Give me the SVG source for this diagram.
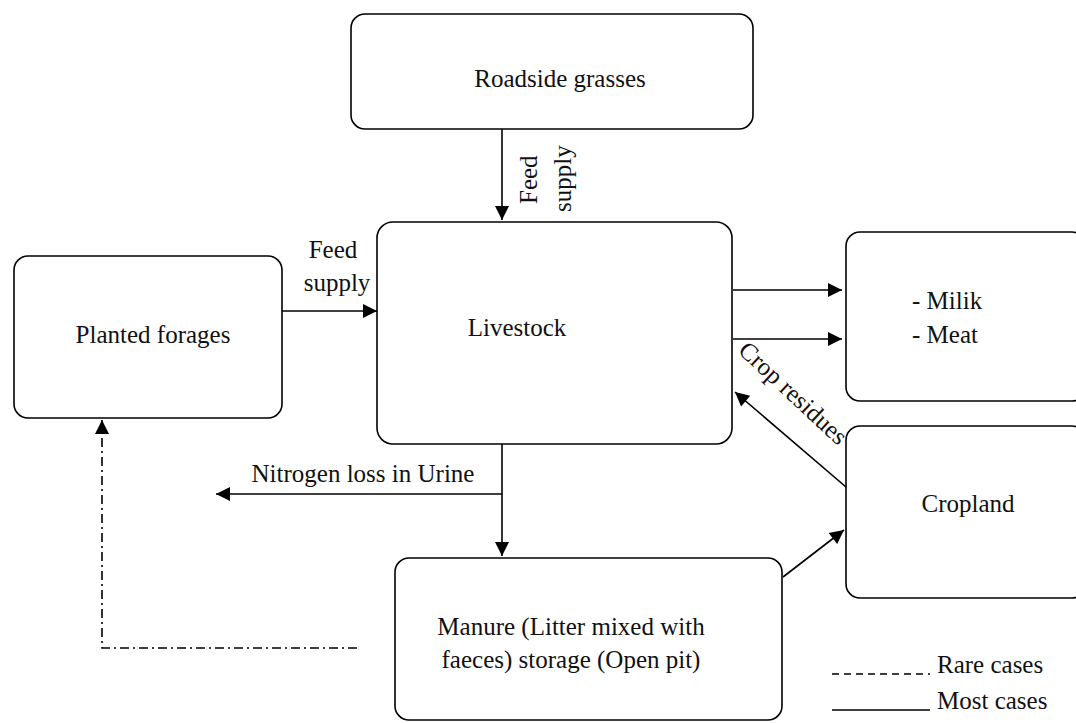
<svg xmlns="http://www.w3.org/2000/svg" width="1076" height="723" viewBox="0 0 1076 723">
<style>
.box{fill:#fff;stroke:#000;stroke-width:1.6}
.t{font-family:"Liberation Serif","Times New Roman",serif;font-size:25px;fill:#111}
.c{stroke:#000;stroke-width:1.6;fill:none}
</style>
<defs>
<marker id="ahb" viewBox="0 0 10 10" refX="10" refY="5" markerWidth="16" markerHeight="14" markerUnits="userSpaceOnUse" orient="auto">
<path d="M0,0 L10,5 L0,10 z" fill="#000"/>
</marker>
</defs>
<rect width="1076" height="723" fill="#fff"/>
<g id="roadside"><rect class="box" x="351" y="14" width="402" height="115" rx="14"/><text class="t" x="560" y="87" text-anchor="middle">Roadside grasses</text></g>
<g id="planted"><rect class="box" x="14" y="256" width="268" height="162" rx="14"/><text class="t" x="153" y="343" text-anchor="middle">Planted forages</text></g>
<g id="livestock"><rect class="box" x="377" y="222" width="355" height="222" rx="16"/><text class="t" x="517" y="336" text-anchor="middle">Livestock</text></g>
<g id="products"><rect class="box" x="846" y="232" width="240" height="169" rx="14"/><text class="t" x="912" y="309">- Milik</text><text class="t" x="912" y="343">- Meat</text></g>
<g id="cropland"><rect class="box" x="846" y="426" width="240" height="172" rx="14"/><text class="t" x="968" y="512" text-anchor="middle">Cropland</text></g>
<g id="manure"><rect class="box" x="395" y="558" width="387" height="162" rx="14"/><text class="t" x="571" y="635" text-anchor="middle">Manure (Litter mixed with</text><text class="t" x="571" y="668" text-anchor="middle">faeces) storage (Open pit)</text></g>
<g id="connectors">
<line class="c" x1="502" y1="129" x2="502" y2="220" marker-end="url(#ahb)"/>
<text class="t" transform="translate(537,204) rotate(-90)">Feed</text>
<text class="t" transform="translate(571,212) rotate(-90)">supply</text>
<line class="c" x1="282" y1="311" x2="377" y2="311" marker-end="url(#ahb)"/>
<text class="t" x="333" y="258" text-anchor="middle">Feed</text>
<text class="t" x="337" y="291" text-anchor="middle">supply</text>
<line class="c" x1="733" y1="290" x2="842" y2="290" marker-end="url(#ahb)"/>
<line class="c" x1="733" y1="339" x2="842" y2="339" marker-end="url(#ahb)"/>
<line class="c" x1="846" y1="487" x2="735" y2="392" marker-end="url(#ahb)"/>
<text class="t" transform="translate(737,352) rotate(43)">Crop residues</text>
<line class="c" x1="502" y1="444" x2="502" y2="556" marker-end="url(#ahb)"/>
<line class="c" x1="502" y1="494" x2="216" y2="494" marker-end="url(#ahb)"/>
<text class="t" x="363" y="482" text-anchor="middle">Nitrogen loss in Urine</text>
<line class="c" x1="783" y1="577" x2="844" y2="530" marker-end="url(#ahb)"/>
<polyline class="c" points="357,648 102,648 102,420" stroke-dasharray="9,4,2,4" marker-end="url(#ahb)"/>
<line class="c" x1="832" y1="674" x2="930" y2="674" stroke-dasharray="7,5"/>
<line class="c" x1="832" y1="710" x2="930" y2="710"/>
<text class="t" x="937" y="673">Rare cases</text>
<text class="t" x="937" y="709">Most cases</text>
</g>
</svg>
